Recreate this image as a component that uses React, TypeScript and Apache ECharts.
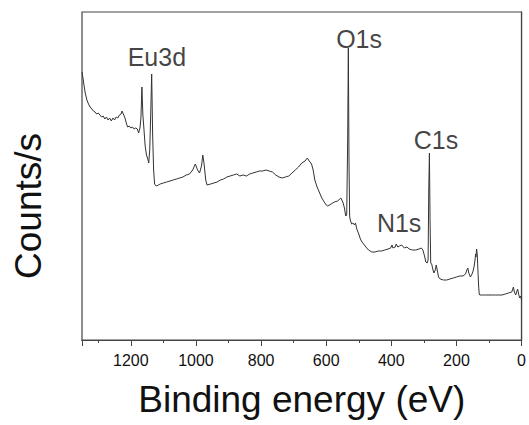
import React, { useEffect, useRef } from 'react';
import * as echarts from 'echarts';

// Binding energy (eV) and intensity (arbitrary counts/s units)
const energy = [
  1350, 1347, 1344, 1340, 1335, 1330, 1325, 1320, 1315, 1310, 1305, 1300, 1295, 1290, 1285, 1280,
  1275, 1270, 1265, 1260, 1255, 1250, 1245, 1240, 1235, 1230, 1227, 1223, 1218, 1214, 1210, 1205,
  1200, 1195, 1190, 1185, 1180, 1176, 1172, 1169, 1166, 1163, 1160, 1156, 1152, 1148, 1145, 1142,
  1139, 1136, 1133, 1130, 1127, 1122, 1115, 1110, 1100, 1090, 1080, 1070, 1060, 1050, 1040, 1030,
  1020, 1010, 1002, 995, 989, 983, 979, 975, 970, 966, 955, 945, 935, 925, 915, 905,
  895, 885, 875, 865, 855, 845, 835, 825, 815, 805, 795, 785, 775, 765, 755, 745,
  735, 725, 715, 705, 695, 685, 675, 665, 658, 652, 645, 640, 635, 628, 620, 615,
  608, 600, 595, 585, 575, 565, 555, 552, 548, 544, 540, 537, 534, 532, 530, 528,
  526, 522, 518, 513, 510, 506, 500, 495, 490, 485, 478, 470, 460, 450, 440, 430,
  420, 410, 402, 398, 395, 388, 385, 380, 375, 368, 360, 352, 345, 335, 325, 315,
  308, 303, 298, 294, 290, 287, 285, 283, 281, 279, 276, 272, 269, 265, 262, 259,
  255, 250, 240, 230, 220, 210, 200, 190, 180, 172, 168, 165, 162, 157, 152, 148,
  145, 143, 141, 140, 138, 136, 134, 132, 130, 128, 120, 110, 100, 90, 80, 70,
  60, 50, 40, 30, 25, 22, 18, 15, 12, 9, 6, 3, 0,
];
const counts = [
  268, 262, 255, 247, 240, 236, 233, 231, 229, 228, 226, 227, 225, 223, 224, 221,
  223, 220, 222, 219, 222, 220, 223, 222, 225, 226, 229, 226, 222, 217, 213, 214,
  212, 213, 211, 212, 211, 207, 212, 222, 253, 225, 212, 194, 185, 181, 177, 190,
  225, 266, 205, 170, 156, 154, 155, 156, 157, 158, 159, 160, 161, 162, 163, 165,
  166, 170, 176, 170, 167, 174, 185, 176, 160, 155, 156, 157, 158, 160, 161, 163,
  164, 165, 166, 164, 165, 164, 166, 167, 168, 169, 169, 170, 169, 168, 165, 163,
  162, 163, 164, 167, 170, 173, 177, 179, 182, 179, 176, 170, 160, 153, 147, 143,
  139, 135, 134, 136, 138, 139, 142, 140, 137, 132, 124, 125, 200, 292, 180, 124,
  120, 116, 117, 115, 117, 111, 106, 101, 98, 96, 93, 90, 88, 88, 89, 89,
  90, 91, 92, 95, 92, 93, 96, 93, 94, 95, 92, 93, 91, 90, 90, 91,
  92, 90, 84, 78, 77, 80, 150, 187, 120, 77, 76, 70, 67, 70, 75, 70,
  63, 61, 60, 60, 61, 62, 63, 64, 64, 66, 70, 72, 67, 63, 66, 70,
  75, 80, 86, 83, 91, 85, 70, 55, 46, 45, 45, 45, 45, 45, 45, 45,
  45, 46, 47, 48, 53, 48, 45, 48, 51, 46, 42, 44, 40,
];

const xLabelTicks = [1200, 1000, 800, 600, 400, 200, 0];

// Peak annotations (label anchor in data units)
const peakNames = ['Eu3d', 'O1s', 'N1s', 'C1s'];
const peakLabelEnergy = [1120, 499, 376, 263];
const peakLabelCounts = [283, 301, 117, 200];

const FONT = '"Liberation Sans", Arial, Helvetica, sans-serif';

export default function App() {
  const ref = useRef<HTMLDivElement>(null);

  useEffect(() => {
    document.body.style.margin = '0';
    if (!ref.current) return;
    const chart = echarts.init(ref.current, undefined, { renderer: 'svg' });
    const line = energy.map((e, i) => [e, counts[i]]);
    const labels = peakNames.map((n, i) => ({ name: n, value: [peakLabelEnergy[i], peakLabelCounts[i]] }));
    const axisColor = '#444';

    chart.setOption({
      animation: false,
      backgroundColor: '#fff',
      grid: {
        left: 82,
        right: 6,
        top: 12,
        bottom: 85,
        show: true,
        borderColor: axisColor,
        borderWidth: 1.2,
        backgroundColor: 'transparent',
      },
      xAxis: [
        {
          type: 'value',
          min: 0,
          max: 1350,
          inverse: true,
          interval: 100,
          position: 'bottom',
          axisLine: { show: true, lineStyle: { color: axisColor, width: 1.2 } },
          axisTick: { show: true, length: 3, lineStyle: { color: axisColor } },
          axisLabel: { show: false },
          splitLine: { show: false },
        },
        {
          type: 'value',
          min: 0,
          max: 1350,
          inverse: true,
          interval: 200,
          position: 'bottom',
          axisLine: { show: true, lineStyle: { color: axisColor, width: 1.2 } },
          axisTick: { show: true, length: 6, lineStyle: { color: axisColor } },
          axisLabel: {
            show: true,
            margin: 12,
            color: '#111',
            fontSize: 16,
            fontFamily: FONT,
            formatter: (v: number) => (xLabelTicks.indexOf(v) >= 0 ? String(v) : ''),
          },
          splitLine: { show: false },
          name: 'Binding energy (eV)',
          nameLocation: 'middle',
          nameGap: 41,
          nameTextStyle: { fontSize: 37, color: '#111', fontFamily: FONT },
        },
      ],
      yAxis: {
        type: 'value',
        min: 0,
        max: 328,
        axisLine: { show: true, lineStyle: { color: axisColor, width: 1.2 } },
        axisTick: { show: false },
        axisLabel: { show: false },
        splitLine: { show: false },
      },
      graphic: [
        {
          type: 'text',
          x: 28,
          y: 206,
          rotation: Math.PI / 2,
          style: {
            text: 'Counts/s',
            font: `37px ${FONT}`,
            fill: '#111',
            align: 'center',
            verticalAlign: 'middle',
          },
        },
      ],
      series: [
        {
          type: 'line',
          xAxisIndex: 0,
          data: line,
          showSymbol: false,
          symbol: 'none',
          lineStyle: { color: '#333', width: 1 },
        },
        {
          type: 'scatter',
          xAxisIndex: 0,
          data: labels,
          symbolSize: 0,
          label: {
            show: true,
            position: 'inside',
            formatter: '{b}',
            fontSize: 25,
            color: '#111',
            fontFamily: FONT,
          },
          silent: true,
        },
      ],
    });
    return () => chart.dispose();
  }, []);

  return <div ref={ref} style={{ width: 529, height: 425 }} />;
}
